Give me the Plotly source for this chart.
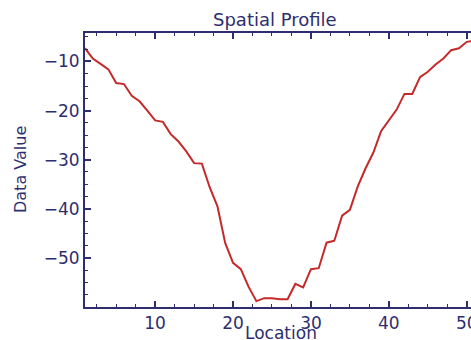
import plotly.graph_objects as go

location = list(range(1, 52))
data_value = [-7.3, -9.4, -10.5, -11.6, -14.4, -14.6, -17.0, -18.1, -20.0, -22.0,
              -22.3, -24.8, -26.3, -28.3, -30.7, -30.8, -35.6, -39.5, -47.0, -51.0,
              -52.3, -55.9, -58.8, -58.2, -58.2, -58.4, -58.4, -55.3, -56.0, -52.3,
              -52.1, -46.9, -46.5, -41.4, -40.2, -35.5, -31.8, -28.6, -24.2, -22.0,
              -19.8, -16.6, -16.6, -13.2, -12.1, -10.6, -9.4, -7.7, -7.3, -6.0, -5.8]

x_ticks = [10, 20, 30, 40, 50]
y_ticks = [-10, -20, -30, -40, -50]

navy = "#2e2e6e"
font = "DejaVu Sans"

fig = go.Figure(go.Scatter(x=location, y=data_value, mode="lines",
                           line=dict(color="#c42a2a", width=2)))

axis_common = dict(showgrid=False, zeroline=False, showline=True, linecolor=navy,
                   linewidth=2, ticks="inside", ticklen=6, tickwidth=1.5,
                   tickcolor=navy, tickfont=dict(family=font, size=17, color=navy),
                   ticklabeloverflow="allow",
                   minor=dict(ticks="inside", ticklen=3, tickwidth=1.2, tickcolor=navy, dtick=2.5))

fig.update_xaxes(range=[1, 50.8], tickvals=x_ticks, mirror="ticks", **axis_common)
fig.update_yaxes(range=[-60, -4.2], tickvals=y_ticks, mirror=False, **axis_common)

fig.update_layout(
    width=478, height=340,
    margin=dict(l=85, r=0, t=33, b=33),
    paper_bgcolor="white", plot_bgcolor="white",
    showlegend=False,
    annotations=[
        dict(text="Spatial Profile", x=0.5, y=1, xref="paper", yref="paper",
             yanchor="bottom", yshift=1, xshift=-4, showarrow=False,
             font=dict(family=font, size=18, color=navy)),
        dict(text="Location", x=0.5, y=0, xref="paper", yref="paper",
             yanchor="middle", yshift=-26, xshift=2, showarrow=False,
             font=dict(family=font, size=17, color=navy)),
        dict(text="Data Value", x=0, y=0.5, xref="paper", yref="paper",
             xanchor="center", xshift=-65, textangle=-90, showarrow=False,
             font=dict(family=font, size=16, color=navy)),
    ],
)

fig.write_html("out.html", config={"displayModeBar": False},
               post_script="document.body.style.margin='0';document.body.style.padding='0';document.body.style.overflow='hidden';")
